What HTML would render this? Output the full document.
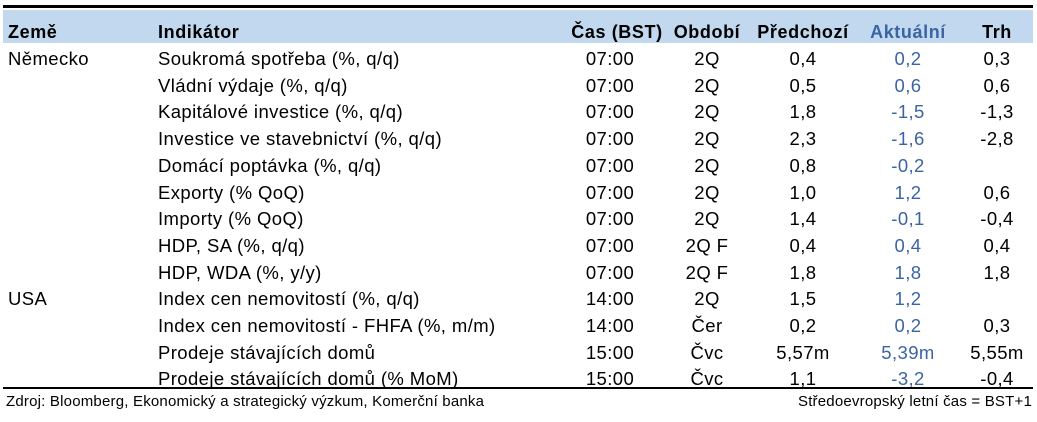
<!DOCTYPE html>
<html><head><meta charset="utf-8"><style>
body{margin:0;width:1037px;height:422px;background:#fff;font-family:"Liberation Sans",Arial,sans-serif;position:relative;overflow:hidden}
.topline{position:absolute;left:3px;width:1030px;top:5px;height:3px;background:#000}
.hdr{position:absolute;left:3px;width:1030px;top:10px;height:33px;background:#c2d8ee}
.row{position:absolute;left:3px;width:1030px;height:27px;font-size:18.5px;letter-spacing:0.4px;color:#000}
.row span{position:absolute;top:0;line-height:27px;white-space:nowrap}
.hdr span{position:absolute;top:9px;line-height:27px;font-weight:bold;font-size:18px;letter-spacing:0.6px;white-space:nowrap}
.c{transform:translateX(-50%)}
.blue{color:#3b64a4}
.botline{position:absolute;left:3px;width:1030px;top:387px;height:2px;background:#000}
.foot{position:absolute;top:393px;font-size:15px;letter-spacing:0.2px;line-height:18px}
</style></head><body>
<div class="topline"></div>
<div class="hdr">
<span style="left:5px">Země</span>
<span style="left:155px">Indikátor</span>
<span class="c" style="left:614px">Čas (BST)</span>
<span class="c" style="left:704px">Období</span>
<span class="c" style="left:800px">Předchozí</span>
<span class="c blue" style="left:905px">Aktuální</span>
<span class="c" style="left:994px">Trh</span>
</div>
<div id="rows"></div>
<div class="botline"></div>
<div class="foot" style="left:6px">Zdroj: Bloomberg, Ekonomický a strategický výzkum, Komerční banka</div>
<div class="foot" style="right:5px">Středoevropský letní čas = BST+1</div>
<script>
const countries=["Německo","","","","","","","","","USA","","",""];
const indicators=["Soukromá spotřeba (%, q/q)","Vládní výdaje (%, q/q)","Kapitálové investice (%, q/q)","Investice ve stavebnictví (%, q/q)","Domácí poptávka (%, q/q)","Exporty (% QoQ)","Importy (% QoQ)","HDP, SA (%, q/q)","HDP, WDA (%, y/y)","Index cen nemovitostí (%, q/q)","Index cen nemovitostí - FHFA (%, m/m)","Prodeje stávajících domů","Prodeje stávajících domů (% MoM)"];
const times=["07:00","07:00","07:00","07:00","07:00","07:00","07:00","07:00","07:00","14:00","14:00","15:00","15:00"];
const periods=["2Q","2Q","2Q","2Q","2Q","2Q","2Q","2Q F","2Q F","2Q","Čer","Čvc","Čvc"];
const previous=["0,4","0,5","1,8","2,3","0,8","1,0","1,4","0,4","1,8","1,5","0,2","5,57m","1,1"];
const actual=["0,2","0,6","-1,5","-1,6","-0,2","1,2","-0,1","0,4","1,8","1,2","0,2","5,39m","-3,2"];
const market=["0,3","0,6","-1,3","-2,8","","0,6","-0,4","0,4","1,8","","0,3","5,55m","-0,4"];
const root=document.getElementById('rows');
function cell(row,txt,left,center,cls,name){
 const s=document.createElement('span');
 s.textContent=txt;s.style.left=left+'px';
 if(center)s.className='c';
 if(cls)s.classList.add(cls);
 
 
 row.appendChild(s);
}
indicators.forEach((ind,i)=>{
 const r=document.createElement('div');
 r.className='row';r.style.top=(45+i*26.7)+'px';
 
 
 cell(r,countries[i],5,false,null,'country-cell');
 cell(r,ind,155,false,null,'indicator-cell');
 cell(r,times[i],607,true,null,'time-cell');
 cell(r,periods[i],704,true,null,'period-cell');
 cell(r,previous[i],800,true,null,'previous-cell');
 cell(r,actual[i],905,true,'blue','actual-cell');
 cell(r,market[i],994,true,null,'market-cell');
 root.appendChild(r);
});
</script>
</body></html>
